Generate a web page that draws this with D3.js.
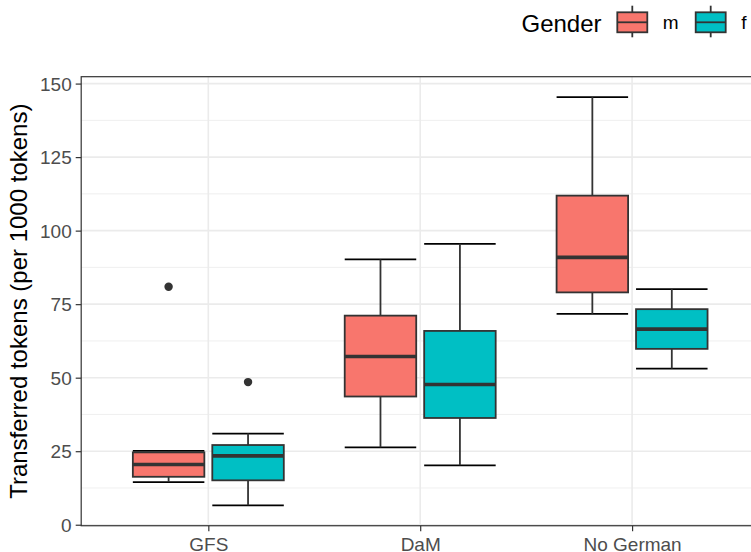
<!DOCTYPE html>
<html>
<head>
<meta charset="utf-8">
<script src="https://cdn.jsdelivr.net/npm/d3@7"></script>
<style>
  body { margin: 0; background: #fff; }
  svg { display: block; font-family: "Liberation Sans", Arial, sans-serif; }
</style>
</head>
<body>
<div id="chart"></div>
<script>
// categories on the x axis and the two gender groups
const categories = ["GFS", "DaM", "No German"];
const genders = ["m", "f"];
const genderColors = ["#F8766D", "#00BFC4"];

// five-number summaries: [lower whisker, Q1, median, Q3, upper whisker]
const statsM = [
  [14.5, 16.3, 20.5, 24.6, 25.1],
  [26.3, 43.6, 57.2, 71.1, 90.2],
  [71.7, 79.0, 90.9, 111.9, 145.4]
];
const statsF = [
  [6.6, 15.1, 23.4, 27.1, 31.0],
  [20.2, 36.3, 47.7, 65.9, 95.5],
  [53.1, 59.8, 66.5, 73.3, 80.1]
];

// outliers
const outlierCats = ["GFS", "GFS"];
const outlierGenders = ["m", "f"];
const outlierValues = [80.9, 48.5];

const yTicks = [0, 25, 50, 75, 100, 125, 150];
const yMinorTicks = [12.5, 37.5, 62.5, 87.5, 112.5, 137.5];

const width = 751;
const height = 552;
const panel = { left: 81.2, right: 759.2, top: 76.7 };

// flatten stats into one row per box
const boxes = [];
categories.forEach((cat, i) => {
  boxes.push({ cat, gender: "m", s: statsM[i] });
  boxes.push({ cat, gender: "f", s: statsF[i] });
});

// y range: data extent with 5% expansion, like ggplot
const allValues = boxes.flatMap((b) => b.s).concat(outlierValues);
const [lo, hi] = d3.extent(allValues);
const pad = (hi - lo) * 0.05;
const pxPerUnit = 2.941;
panel.bottom = panel.top + (hi - lo + 2 * pad) * pxPerUnit;

const x = d3.scalePoint().domain(categories).range([panel.left, panel.right]).padding(0.6);
const step = x.step();
const dodge = d3.scalePoint().domain(genders).range([-0.1875 * step, 0.1875 * step]);
const boxW = 0.3375 * step;
const y = d3.scaleLinear().domain([lo - pad, hi + pad]).range([panel.bottom, panel.top]);
const color = d3.scaleOrdinal().domain(genders).range(genderColors);

const svg = d3.select("#chart").append("svg").attr("width", width).attr("height", height);

// panel background + grid
const grid = svg.append("g");
grid.selectAll(".minor").data(yMinorTicks).enter().append("line")
  .attr("x1", panel.left).attr("x2", panel.right)
  .attr("y1", (d) => y(d)).attr("y2", (d) => y(d))
  .attr("stroke", "#EBEBEB").attr("stroke-width", 0.8);
grid.selectAll(".major").data(yTicks).enter().append("line")
  .attr("x1", panel.left).attr("x2", panel.right)
  .attr("y1", (d) => y(d)).attr("y2", (d) => y(d))
  .attr("stroke", "#EBEBEB").attr("stroke-width", 1.6);
grid.selectAll(".vmajor").data(categories).enter().append("line")
  .attr("x1", (d) => x(d)).attr("x2", (d) => x(d))
  .attr("y1", panel.top).attr("y2", panel.bottom)
  .attr("stroke", "#EBEBEB").attr("stroke-width", 1.6);

// boxplots
const g = svg.append("g").selectAll("g").data(boxes).enter().append("g")
  .attr("transform", (d) => `translate(${x(d.cat) + dodge(d.gender)},0)`);

// errorbar caps
g.append("line").attr("x1", -boxW / 2).attr("x2", boxW / 2)
  .attr("y1", (d) => y(d.s[4])).attr("y2", (d) => y(d.s[4]))
  .attr("stroke", "#000").attr("stroke-width", 1.8);
g.append("line").attr("x1", -boxW / 2).attr("x2", boxW / 2)
  .attr("y1", (d) => y(d.s[0])).attr("y2", (d) => y(d.s[0]))
  .attr("stroke", "#000").attr("stroke-width", 1.8);

// whiskers
g.append("line").attr("x1", 0).attr("x2", 0)
  .attr("y1", (d) => y(d.s[0])).attr("y2", (d) => y(d.s[4]))
  .attr("stroke", "#333333").attr("stroke-width", 1.8);

// box
g.append("rect")
  .attr("x", -boxW / 2).attr("width", boxW)
  .attr("y", (d) => y(d.s[3]))
  .attr("height", (d) => y(d.s[1]) - y(d.s[3]))
  .attr("fill", (d) => color(d.gender))
  .attr("stroke", "#333333").attr("stroke-width", 1.8);

// median
g.append("line").attr("x1", -boxW / 2).attr("x2", boxW / 2)
  .attr("y1", (d) => y(d.s[2])).attr("y2", (d) => y(d.s[2]))
  .attr("stroke", "#333333").attr("stroke-width", 3.6);

// outliers
svg.append("g").selectAll("circle").data(outlierValues).enter().append("circle")
  .attr("cx", (d, i) => x(outlierCats[i]) + dodge(outlierGenders[i]))
  .attr("cy", (d) => y(d))
  .attr("r", 4.2)
  .attr("fill", "#333333");

// panel border
svg.append("rect")
  .attr("x", panel.left).attr("y", panel.top)
  .attr("width", panel.right - panel.left).attr("height", panel.bottom - panel.top)
  .attr("fill", "none").attr("stroke", "#333333").attr("stroke-width", 1.2);

// axes
const yAxis = svg.append("g")
  .attr("transform", `translate(${panel.left},0)`)
  .call(d3.axisLeft(y).tickValues(yTicks).tickSize(5.5).tickPadding(4));
const xAxis = svg.append("g")
  .attr("transform", `translate(0,${panel.bottom})`)
  .call(d3.axisBottom(x).tickSize(5.5).tickPadding(4));

[yAxis, xAxis].forEach((ax) => {
  ax.select(".domain").remove();
  ax.selectAll(".tick line").attr("stroke", "#333333").attr("stroke-width", 1.2);
  ax.selectAll(".tick text")
    .attr("fill", "#4D4D4D")
    .style("font-size", "19px")
    .style("font-family", '"Liberation Sans", Arial, sans-serif');
});
xAxis.selectAll(".tick text").attr("dy", null).attr("y", 25.5);
yAxis.selectAll(".tick text").attr("dy", "0.35em");

// y title
svg.append("text")
  .attr("transform", `translate(27,${(panel.top + panel.bottom) / 2}) rotate(-90)`)
  .attr("text-anchor", "middle")
  .style("font-size", "24px")
  .attr("fill", "#000")
  .text("Transferred tokens (per 1000 tokens)");

// legend
const legend = svg.append("g");
legend.append("text")
  .attr("x", 521.5).attr("y", 31.5)
  .style("font-size", "24px")
  .text("Gender");

const keyX = [617.3, 695.7];
const keys = legend.selectAll(".key").data(genders).enter().append("g")
  .attr("transform", (d, i) => `translate(${keyX[i]},0)`);
keys.append("line").attr("x1", 15).attr("x2", 15).attr("y1", 5.7).attr("y2", 37.3)
  .attr("stroke", "#333333").attr("stroke-width", 1.8);
keys.append("rect").attr("x", 0).attr("y", 12.3).attr("width", 30).attr("height", 20)
  .attr("fill", (d) => color(d)).attr("stroke", "#333333").attr("stroke-width", 1.8);
keys.append("line").attr("x1", 0).attr("x2", 30).attr("y1", 22.3).attr("y2", 22.3)
  .attr("stroke", "#333333").attr("stroke-width", 1.8);
keys.append("text").attr("x", 45.5).attr("y", 29.3)
  .style("font-size", "19px")
  .text((d) => d);
</script>
</body>
</html>
